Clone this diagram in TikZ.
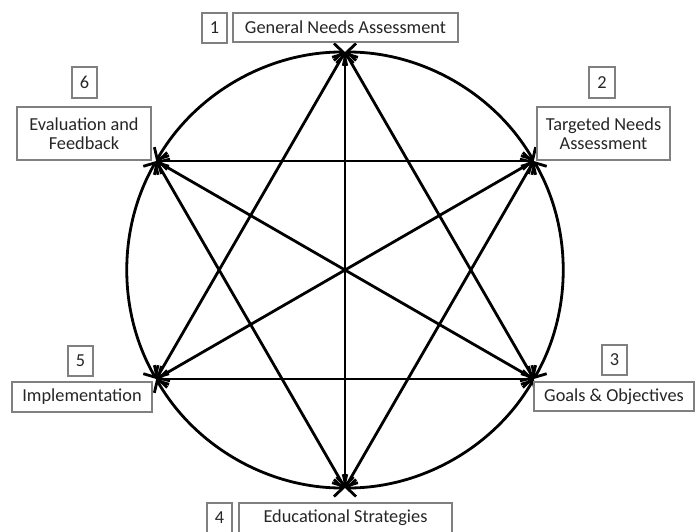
\documentclass[tikz,border=0pt]{standalone}
\usepackage{fontspec}
\setmainfont{Carlito}
\usetikzlibrary{arrows.meta}
\begin{document}
\begin{tikzpicture}[x=1pt,y=1pt,
  lbl/.style={draw=black!50, line width=1.2pt, fill=white, inner sep=0pt, align=center,
    text=black!85, font=\fontsize{18.3}{21}\selectfont},
  conn/.style={line width=2.8pt, {Straight Barb[length=9pt,width=17pt]}-{Straight Barb[length=9pt,width=17pt]}},
  arcc/.style={conn, bend left=30, looseness=0.91}]
\clip (0,0) rectangle (697,531);
% vertices
\coordinate (v1) at (345,479);
\coordinate (v2) at (533.8,370);
\coordinate (v3) at (533.8,152);
\coordinate (v4) at (345,43);
\coordinate (v5) at (156.2,152);
\coordinate (v6) at (156.2,370);
% arcs
\draw[arcc] (v1) to (v2);
\draw[arcc] (v2) to (v3);
\draw[arcc] (v3) to (v4);
\draw[arcc] (v4) to (v5);
\draw[arcc] (v5) to (v6);
\draw[arcc] (v6) to (v1);
% chords
\draw[conn] (v1) -- (v3);
\draw[conn] (v1) -- (v4);
\draw[conn] (v1) -- (v5);
\draw[conn] (v2) -- (v4);
\draw[conn] (v2) -- (v5);
\draw[conn] (v2) -- (v6);
\draw[conn] (v3) -- (v5);
\draw[conn] (v3) -- (v6);
\draw[conn] (v4) -- (v6);
% labels
\node[lbl, minimum width=25pt, minimum height=30pt] (n1) at (214.5,503) {1};
\node[lbl, minimum width=225pt, minimum height=29pt] (t1) at (345.5,503.5) {General Needs Assessment};
\node[lbl, minimum width=26pt, minimum height=31pt] (n2) at (602,448.5) {2};
\node[lbl, minimum width=133pt, minimum height=53pt] (t2) at (603.5,397.5) {Targeted Needs\\[-2pt]Assessment};
\node[lbl, minimum width=25pt, minimum height=30pt] (n3) at (614.5,171) {3};
\node[lbl, minimum width=160pt, minimum height=29pt] (t3) at (614,134.5) {Goals \& Objectives};
\node[lbl, minimum width=25pt, minimum height=30pt] (n4) at (219.5,13) {4};
\node[lbl, minimum width=213pt, minimum height=30pt] (t4) at (345.5,13) {Educational Strategies};
\node[lbl, minimum width=25pt, minimum height=30pt] (n5) at (80.5,170) {5};
\node[lbl, minimum width=140pt, minimum height=30pt] (t5) at (82,134) {Implementation};
\node[lbl, minimum width=25pt, minimum height=31pt] (n6) at (84.5,448.5) {6};
\node[lbl, minimum width=134pt, minimum height=53pt] (t6) at (84,397.5) {Evaluation and\\[-2pt]Feedback};
\end{tikzpicture}
\end{document}
